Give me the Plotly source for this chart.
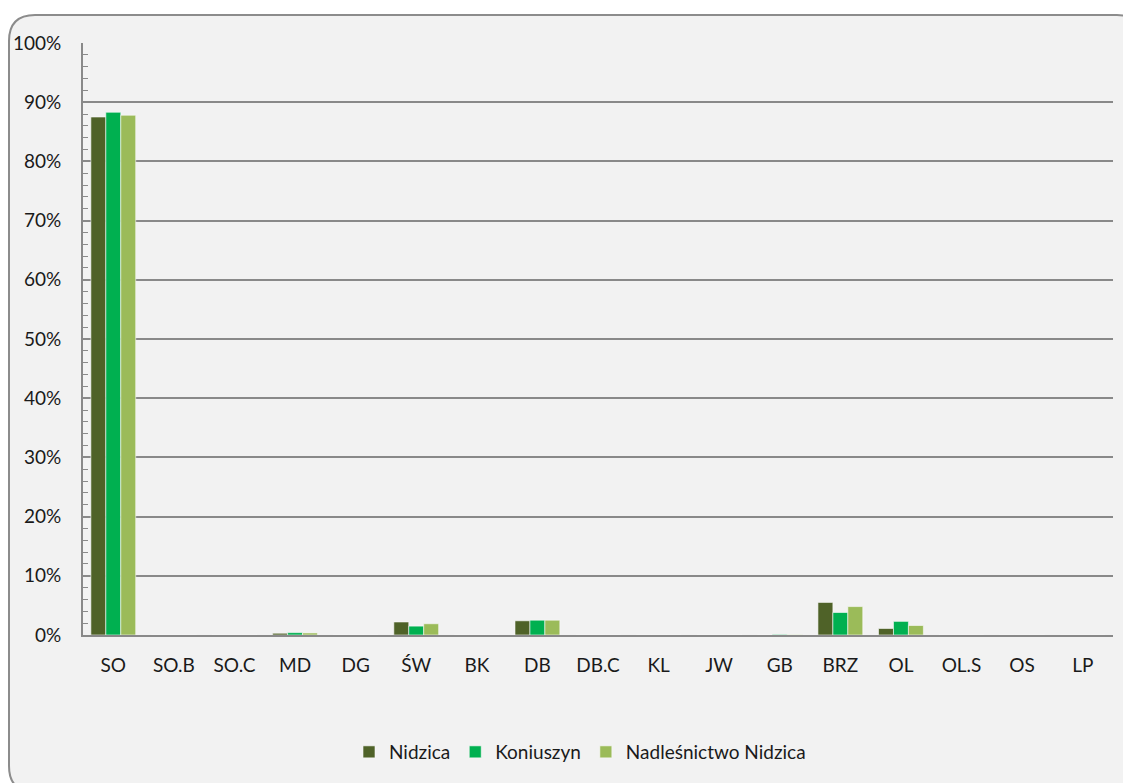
import plotly.graph_objects as go

# species codes along the x axis
categories = ["SO", "SO.B", "SO.C", "MD", "DG", "ŚW", "BK", "DB", "DB.C",
              "KL", "JW", "GB", "BRZ", "OL", "OL.S", "OS", "LP"]

# share of each species (%)
nidzica = [87.5, 0, 0, 0.3, 0, 2.2, 0, 2.4, 0, 0, 0, 0, 5.5, 1.1, 0, 0, 0]
koniuszyn = [88.3, 0, 0, 0.4, 0, 1.5, 0, 2.5, 0, 0, 0, 0.1, 3.8, 2.3, 0, 0, 0]
nadlesnictwo = [87.8, 0, 0, 0.35, 0, 1.9, 0, 2.5, 0, 0, 0, 0.05, 4.8, 1.6, 0, 0, 0]

series = [
    ("Nidzica", nidzica, "#4F6228"),
    ("Koniuszyn", koniuszyn, "#00B050"),
    ("Nadleśnictwo Nidzica", nadlesnictwo, "#9BBB59"),
]

# page has an 8px body margin, so figure coords = page coords - 8
OFF = 8
W, H = 1131 - OFF, 783 - OFF
L, R, T, B = 83 - OFF, 1113 - OFF, 43 - OFF, 635 - OFF
GRID = "#898989"
FONT = "Lato"


def px_to_paper(x, y):
    return (x - OFF - L) / (R - L), (B - (y - OFF)) / (B - T)


def rounded_box(x0, y0, x1, y1, r):
    pts = [
        ("M", x0 + r, y0), ("L", x1 - r, y0), ("Q", x1, y0, x1, y0 + r),
        ("L", x1, y1 - r), ("Q", x1, y1, x1 - r, y1),
        ("L", x0 + r, y1), ("Q", x0, y1, x0, y1 - r),
        ("L", x0, y0 + r), ("Q", x0, y0, x0 + r, y0),
    ]
    parts = []
    for p in pts:
        coords = []
        for i in range(1, len(p), 2):
            px, py = px_to_paper(p[i], p[i + 1])
            coords.append(f"{px:.5f},{py:.5f}")
        parts.append(p[0] + " ".join(coords))
    return " ".join(parts) + " Z"


fig = go.Figure()
for name, values, color in series:
    fig.add_trace(
        go.Bar(
            x=categories,
            y=values,
            name=name,
            marker=dict(color=color, line=dict(color="#FAFAFA", width=0.6)),
        )
    )

# rounded chart frame (page coords)
fig.add_shape(
    type="path",
    xref="paper",
    yref="paper",
    path=rounded_box(9, 15, 1143, 792, 26),
    fillcolor="#F2F2F2",
    line=dict(color="#8C8C8C", width=2),
    layer="below",
)

fig.update_layout(
    width=W,
    height=H,
    margin=dict(l=L, r=W - R, t=T, b=H - B, autoexpand=False),
    paper_bgcolor="white",
    plot_bgcolor="rgba(0,0,0,0)",
    barmode="group",
    bargap=0.26,
    bargroupgap=0,
    font=dict(family=FONT, size=19, color="#1a1a1a"),
    legend=dict(
        orientation="h",
        x=px_to_paper(580, 0)[0],
        xanchor="center",
        y=px_to_paper(0, 752)[1],
        yanchor="middle",
        font=dict(size=19),
        bgcolor="rgba(0,0,0,0)",
        itemwidth=30,
    ),
)

fig.update_xaxes(
    automargin=False,
    showline=True,
    linecolor=GRID,
    linewidth=2,
    showgrid=False,
    ticks="",
    ticklabelstandoff=12,
    tickfont=dict(size=19),
)

fig.update_yaxes(
    automargin=False,
    range=[0, 100],
    dtick=10,
    ticksuffix="%",
    showline=True,
    linecolor=GRID,
    linewidth=2,
    showgrid=True,
    gridcolor=GRID,
    gridwidth=1.5,
    zeroline=False,
    ticks="inside",
    ticklen=5,
    tickcolor=GRID,
    ticklabelstandoff=16,
    tickfont=dict(size=19),
    minor=dict(dtick=2, ticks="inside", ticklen=5, tickcolor=GRID, showgrid=False),
)

fig.write_html("out.html")
